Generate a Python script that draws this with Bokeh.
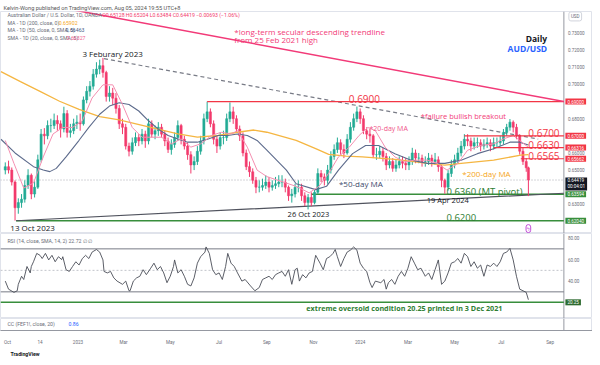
from bokeh.plotting import figure
from bokeh.models import Range1d, FixedTicker, Label, Title, ColumnDataSource
from bokeh.core.properties import value
from bokeh.layouts import column
from bokeh.embed import file_html
from bokeh.resources import INLINE

# ---------------- data ----------------
# x = trading-day index, 0 = 29 Sep 2022; candles sampled every 3 trading days
first_open = 0.650
candle_idx = list(range(0, 481, 3)) + [482]
closes = [
    0.652, 0.650, 0.643, 0.628, 0.631, 0.633, 0.641, 0.647, 0.636, 0.640,
    0.656, 0.671, 0.670, 0.676, 0.676, 0.679, 0.677, 0.674, 0.683, 0.672,
    0.673, 0.677, 0.678, 0.677, 0.691, 0.696, 0.699, 0.706, 0.709, 0.711,
    0.707, 0.693, 0.695, 0.692, 0.686, 0.677, 0.675, 0.664, 0.661, 0.666,
    0.669, 0.667, 0.671, 0.667, 0.677, 0.671, 0.673, 0.675, 0.671, 0.667,
    0.662, 0.665, 0.669, 0.676, 0.668, 0.664, 0.659, 0.653, 0.655, 0.661,
    0.667, 0.680, 0.684, 0.677, 0.668, 0.664, 0.669, 0.669, 0.680, 0.684,
    0.680, 0.674, 0.670, 0.660, 0.652, 0.649, 0.644, 0.640, 0.640, 0.641,
    0.643, 0.640, 0.641, 0.642, 0.643, 0.643, 0.640, 0.635, 0.636, 0.640,
    0.640, 0.635, 0.631, 0.634, 0.631, 0.637, 0.648, 0.646, 0.644, 0.650,
    0.658, 0.662, 0.666, 0.662, 0.660, 0.668, 0.675, 0.680, 0.684, 0.680,
    0.673, 0.671, 0.670, 0.659, 0.659, 0.661, 0.658, 0.653, 0.655, 0.651,
    0.653, 0.655, 0.654, 0.653, 0.655, 0.660, 0.657, 0.657, 0.655, 0.655,
    0.657, 0.655, 0.656, 0.652, 0.644, 0.640, 0.648, 0.653, 0.656, 0.660,
    0.664, 0.668, 0.667, 0.664, 0.666, 0.666, 0.664, 0.665, 0.666, 0.664,
    0.666, 0.666, 0.667, 0.672, 0.675, 0.678, 0.675, 0.670, 0.661, 0.655,
    0.6513, 0.6442]
highs = [
    0.6545, 0.6555, 0.6515, 0.6440, 0.6335, 0.6360, 0.6440, 0.6505, 0.6480, 0.6435,
    0.6590, 0.6740, 0.6745, 0.6790, 0.6800, 0.6830, 0.6820, 0.6790, 0.6870, 0.6850,
    0.6770, 0.6800, 0.6820, 0.6830, 0.6930, 0.6990, 0.7020, 0.7090, 0.7130, 0.7145,
    0.7155, 0.7080, 0.6990, 0.6980, 0.6950, 0.6880, 0.6800, 0.6770, 0.6660, 0.6690,
    0.6720, 0.6710, 0.6740, 0.6730, 0.6800, 0.6790, 0.6760, 0.6780, 0.6770, 0.6730,
    0.6690, 0.6680, 0.6720, 0.6790, 0.6770, 0.6700, 0.6660, 0.6610, 0.6580, 0.6640,
    0.6700, 0.6830, 0.6900, 0.6860, 0.6790, 0.6700, 0.6720, 0.6730, 0.6830, 0.6895,
    0.6870, 0.6820, 0.6760, 0.6720, 0.6620, 0.6550, 0.6510, 0.6460, 0.6440, 0.6450,
    0.6470, 0.6460, 0.6440, 0.6460, 0.6470, 0.6470, 0.6450, 0.6410, 0.6390, 0.6420,
    0.6440, 0.6420, 0.6370, 0.6360, 0.6370, 0.6390, 0.6510, 0.6500, 0.6480, 0.6530,
    0.6610, 0.6650, 0.6690, 0.6680, 0.6650, 0.6710, 0.6780, 0.6830, 0.6871, 0.6860,
    0.6820, 0.6750, 0.6740, 0.6710, 0.6630, 0.6640, 0.6630, 0.6600, 0.6580, 0.6570,
    0.6560, 0.6580, 0.6580, 0.6570, 0.6580, 0.6630, 0.6620, 0.6600, 0.6590, 0.6580,
    0.6600, 0.6590, 0.6600, 0.6580, 0.6530, 0.6450, 0.6500, 0.6560, 0.6590, 0.6630,
    0.6670, 0.6710, 0.6710, 0.6690, 0.6690, 0.6690, 0.6680, 0.6680, 0.6690, 0.6680,
    0.6690, 0.6690, 0.6700, 0.6740, 0.6770, 0.6798, 0.6790, 0.6770, 0.6710, 0.6630,
    0.6570, 0.6520]
lows = [
    0.6475, 0.6480, 0.6410, 0.6205, 0.6245, 0.6280, 0.6310, 0.6390, 0.6330, 0.6340,
    0.6390, 0.6545, 0.6650, 0.6680, 0.6720, 0.6740, 0.6730, 0.6690, 0.6720, 0.6690,
    0.6690, 0.6710, 0.6740, 0.6730, 0.6760, 0.6890, 0.6930, 0.6970, 0.7040, 0.7060,
    0.7040, 0.6900, 0.6900, 0.6880, 0.6830, 0.6740, 0.6710, 0.6620, 0.6580, 0.6590,
    0.6640, 0.6640, 0.6650, 0.6630, 0.6650, 0.6690, 0.6680, 0.6700, 0.6690, 0.6640,
    0.6600, 0.6590, 0.6630, 0.6670, 0.6650, 0.6620, 0.6560, 0.6480, 0.6500, 0.6530,
    0.6590, 0.6650, 0.6780, 0.6750, 0.6650, 0.6600, 0.6620, 0.6650, 0.6670, 0.6780,
    0.6770, 0.6720, 0.6670, 0.6580, 0.6500, 0.6460, 0.6420, 0.6365, 0.6370, 0.6380,
    0.6390, 0.6370, 0.6380, 0.6390, 0.6400, 0.6400, 0.6370, 0.6320, 0.6310, 0.6340,
    0.6370, 0.6320, 0.6290, 0.6270, 0.6290, 0.6300, 0.6360, 0.6430, 0.6410, 0.6420,
    0.6480, 0.6560, 0.6600, 0.6590, 0.6570, 0.6590, 0.6660, 0.6730, 0.6780, 0.6770,
    0.6710, 0.6680, 0.6660, 0.6570, 0.6560, 0.6570, 0.6550, 0.6500, 0.6510, 0.6490,
    0.6490, 0.6510, 0.6510, 0.6500, 0.6500, 0.6530, 0.6540, 0.6540, 0.6520, 0.6520,
    0.6530, 0.6520, 0.6530, 0.6490, 0.6400, 0.6362, 0.6380, 0.6460, 0.6510, 0.6540,
    0.6580, 0.6620, 0.6640, 0.6610, 0.6620, 0.6630, 0.6610, 0.6620, 0.6630, 0.6610,
    0.6620, 0.6630, 0.6640, 0.6650, 0.6700, 0.6730, 0.6720, 0.6680, 0.6590, 0.6530,
    0.6490, 0.6348]

ma200_idx = [-4, 14, 32, 50, 68, 87, 105, 132, 159, 177,
             196, 214, 229, 241, 268, 286, 298, 314, 329, 359,
             389, 405, 420, 450, 475, 482]
ma200_val = [0.7075, 0.7017, 0.6960, 0.6902, 0.6854, 0.6812, 0.6793, 0.6753, 0.6711, 0.6692,
             0.6702, 0.6721, 0.6734, 0.6721, 0.6673, 0.6625, 0.6592, 0.6581, 0.6577, 0.6562,
             0.6539, 0.6529, 0.6539, 0.6558, 0.6587, 0.6590]
ma50_idx = [-4, 9, 26, 35, 41, 47, 56, 68, 77, 87,
            96, 105, 114, 123, 132, 141, 150, 159, 168, 177,
            187, 196, 205, 214, 223, 232, 241, 250, 259, 268,
            286, 296, 307, 320, 332, 344, 359, 374, 389, 405,
            420, 435, 450, 465, 474, 482]
ma50_val = [0.6680, 0.6600, 0.6520, 0.6500, 0.6491, 0.6510, 0.6577, 0.6674, 0.6749, 0.6826,
            0.6874, 0.6893, 0.6883, 0.6845, 0.6788, 0.6739, 0.6702, 0.6682, 0.6663, 0.6663,
            0.6682, 0.6702, 0.6702, 0.6711, 0.6702, 0.6673, 0.6616, 0.6558, 0.6500, 0.6420,
            0.6386, 0.6405, 0.6500, 0.6596, 0.6644, 0.6644, 0.6596, 0.6558, 0.6539, 0.6539,
            0.6558, 0.6596, 0.6625, 0.6663, 0.6663, 0.6646]
ma20_idx = [0, 8, 17, 26, 35, 44, 53, 62, 71, 80,
            90, 99, 108, 117, 126, 135, 144, 153, 162, 171,
            180, 190, 199, 208, 214, 223, 232, 241, 250, 259,
            268, 280, 289, 298, 307, 317, 326, 334, 341, 350,
            359, 368, 377, 389, 398, 407, 417, 426, 438, 450,
            459, 468, 474, 482]
ma20_val = [0.6673, 0.6539, 0.6395, 0.6424, 0.6577, 0.6711, 0.6749, 0.6749, 0.6788, 0.6921,
            0.6998, 0.6998, 0.6883, 0.6749, 0.6692, 0.6692, 0.6692, 0.6653, 0.6682, 0.6634,
            0.6653, 0.6702, 0.6721, 0.6711, 0.6730, 0.6634, 0.6500, 0.6462, 0.6443, 0.6424,
            0.6405, 0.6367, 0.6405, 0.6481, 0.6577, 0.6634, 0.6702, 0.6749, 0.6730, 0.6634,
            0.6577, 0.6548, 0.6558, 0.6558, 0.6539, 0.6500, 0.6539, 0.6616, 0.6644, 0.6653,
            0.6682, 0.6702, 0.6673, 0.6633]

rsi_idx = [0, 3, 8, 11, 12, 15, 17, 20, 23, 24,
           26, 29, 32, 34, 37, 40, 43, 46, 49, 52,
           53, 56, 59, 62, 65, 68, 71, 74, 77, 80,
           84, 87, 90, 91, 94, 97, 100, 103, 108, 111,
           114, 115, 118, 121, 124, 127, 130, 134, 137, 140,
           143, 146, 149, 152, 155, 156, 159, 162, 165, 168,
           171, 174, 177, 180, 184, 185, 188, 191, 194, 197,
           200, 203, 205, 208, 211, 214, 218, 221, 226, 230,
           234, 237, 240, 243, 246, 249, 252, 255, 258, 261,
           264, 267, 269, 271, 274, 277, 280, 283, 286, 290,
           293, 296, 299, 302, 304, 306, 309, 312, 315, 318,
           321, 324, 327, 330, 333, 336, 338, 341, 346, 349,
           351, 353, 356, 359, 362, 365, 368, 371, 374, 377,
           380, 383, 387, 390, 393, 396, 399, 402, 405, 408,
           411, 414, 417, 420, 423, 426, 429, 432, 435, 438,
           441, 444, 447, 450, 453, 456, 459, 462, 465, 468,
           471, 474, 477, 480, 482]
rsi_val = [40, 32.5, 29.5, 31, 37, 44.5, 41.5, 53.6, 47.6, 53.6,
           58, 65.8, 64, 61, 65.8, 59.7, 64, 58, 62.7, 60,
           62.7, 50.6, 49, 53.6, 58, 55, 61, 64, 61, 67,
           69.4, 67, 59.7, 49, 47.6, 49, 43, 40, 37, 40,
           31, 31, 40, 43, 44.5, 50.6, 46, 52, 56.7, 50.6,
           53.6, 47.6, 38.5, 44.5, 53.6, 59.7, 47.6, 50.6, 44.5, 37,
           35.5, 43, 56.7, 62.7, 67, 71.8, 65.8, 50.6, 46, 47.6,
           41.5, 53.6, 65.8, 56.7, 53.6, 47.6, 40, 41.5, 35.5, 31,
           34, 41.5, 43, 44.5, 41.5, 46, 47.6, 49, 44.5, 50.6,
           37, 50.6, 52, 40, 46, 43, 47.6, 49, 64, 56.7,
           50.6, 61, 62.7, 65.8, 69.4, 62.7, 53.6, 61, 67, 68.8,
           71.8, 68.8, 56.7, 52, 49, 38.5, 34, 40, 38.5, 41.5,
           32.5, 38.5, 41.5, 37, 44.5, 49, 44.5, 52, 62.7, 56.7,
           50.6, 52, 44.5, 47.6, 41.5, 50.6, 59.7, 37, 40, 47.6,
           56.7, 58, 61, 56.7, 65.8, 62.7, 53.6, 58, 52, 55,
           44.5, 55, 53.6, 56.7, 53.6, 58, 65.8, 67, 70.4, 59.7,
           44.5, 32.5, 31, 29.5, 22.7]

tick_idx = [2, 32, 67, 109, 152, 197, 241, 284, 327, 371, 414, 457, 502]
tick_labels = ["Oct", "14", "2023", "Mar", "May", "Jul", "Sep", "Nov", "2024", "Mar", "May", "Jul", "Sep"]
price_ticks = [0.63, 0.65, 0.66, 0.68, 0.70, 0.71, 0.72, 0.73]
price_tick_labels = ["0.63000", "0.65000", "0.66000", "0.68000", "0.70000", "0.71000", "0.72000", "0.73000"]
rsi_ticks = [40, 60, 80]
rsi_tick_labels = ["40.00", "60.00", "80.00"]

res_levels = [0.6900, 0.6700, 0.66316, 0.65662]
res_labels = ["0.69000", "0.67000", "0.66316", "0.65662"]
res_start = [186, 423, 450, 475]
sup_levels = [0.63594, 0.62040]
sup_labels = ["0.63594", "0.62040"]
sup_start = [282, 10]
last_price = 0.64419
asc_tl_idx = [10, 280]
asc_tl_val = [0.6204, 0.6290]
desc_tl_idx = [91, 491]
desc_tl_val = [0.7151, 0.6681]
secular_tl_idx = [86.5, 514.7]
secular_tl_val = [0.7407, 0.6900]
rsi_levels = [70, 30]
rsi_extreme = 20.25

# ---------------- geometry ----------------
X0, X1 = -4.4, 514.7          # plotting area (left of the price scale)
XR = X0 + (X1 - X0) * 600.0 / 571.0   # includes the price-scale strip
P0, P1 = 0.61296, 0.74262
R0, R1 = 5.2, 84.3

def mx(px): return X0 + px / 571.0 * (X1 - X0)
def my(py): return P1 - (py - 12.0) / 226.0 * (P1 - P0)
def ry(py): return R1 - (py - 238.0) / 87.0 * (R1 - R0)
def cy(py): return 1.0 - (py - 325.0) / 15.0

UP, DN = "#22ab94", "#f23a6c"
RED, GREEN, PINK = "#f23645", "#2e7d32", "#f23a78"
GRAYTXT = "#6a6d78"
FRAME = "#e0e3eb"
AXLINE = "#9598a1"

def lab(fig, x, y, text, size, color, align="left", style="normal", font="Open Sans", **kw):
    fig.add_layout(Label(x=x, y=y, text=text, text_font_size=size, text_color=color,
                         text_align=align, text_baseline="middle", text_font_style=style,
                         text_font=font, **kw))

def box(fig, y, text, bg):
    fig.add_layout(Label(x=X1, y=y, x_offset=1.5, text=text, text_font_size="4.6px",
                         text_color="white", text_align="left", text_baseline="middle",
                         background_fill_color=bg, text_font="Roboto", padding=(2, 1)))

def base_fig(height, yr, top=0, bottom=0, xaxis=None):
    f = figure(width=592, height=height, x_range=main_xr, y_range=yr, output_backend="svg",
               toolbar_location=None, y_axis_location=None, x_axis_location=xaxis,
               min_border_left=0, min_border_right=0, min_border_top=top, min_border_bottom=bottom)
    f.grid.visible = False
    f.outline_line_color = FRAME
    f.background_fill_color = "white"
    f.border_fill_color = "white"
    # price-scale separator
    f.segment(x0=[X1], y0=[yr.start], x1=[X1], y1=[yr.end], line_color=AXLINE, line_width=1)
    return f

def scale_text(fig, ticks, labels):
    fig.text(x=[X1] * len(ticks), y=ticks, text=labels, x_offset=4, text_baseline="middle",
             text_font=value("Roboto"), text_font_size=value("4.6px"), text_color=GRAYTXT)

main_xr = Range1d(X0, XR)

# ---------------- main price pane ----------------
main = base_fig(233, Range1d(P0, P1), top=11)
main.title.text = "Kelvin-Wong published on TradingView.com, Aug 05, 2024 19:55 UTC+8"
main.title.align = "left"
main.title.offset = 3
main.title.standoff = 2
main.title.text_font_size = "5.6px"
main.title.text_font_style = "normal"
main.title.text_font = "Roboto"
main.title.text_color = "#555555"
scale_text(main, price_ticks, price_tick_labels)

opens = [first_open] + closes[:-1]
cols = [UP if c >= o else DN for o, c in zip(opens, closes)]
src = ColumnDataSource(dict(x=candle_idx, h=highs, l=lows,
                            top=[max(o, c) for o, c in zip(opens, closes)],
                            bot=[min(o, c) for o, c in zip(opens, closes)], col=cols))

# reference lines
main.segment(x0=[X0], y0=[last_price], x1=[X1], y1=[last_price], line_color=AXLINE,
             line_dash="1 2", line_width=0.8)
main.segment(x0=sup_start, y0=sup_levels, x1=[X1] * len(sup_levels), y1=sup_levels,
             line_color="#388e3c", line_width=1.5)
main.line(asc_tl_idx + [X1], asc_tl_val + [asc_tl_val[0] + (X1 - asc_tl_idx[0]) *
          (asc_tl_val[1] - asc_tl_val[0]) / (asc_tl_idx[1] - asc_tl_idx[0])],
          line_color="#50535e", line_width=1.2)
main.line(desc_tl_idx, desc_tl_val, line_color="#787b86", line_width=1.2, line_dash="4 3")

# candles
main.segment(x0="x", y0="l", x1="x", y1="h", line_color="col", line_width=1, source=src)
main.vbar(x="x", width=2.0, top="top", bottom="bot", fill_color="col", line_color="col",
          line_width=0.5, source=src)

# moving averages
main.line(ma200_idx, ma200_val, line_color="#f5b642", line_width=1.3)
main.line(ma50_idx, ma50_val, line_color="#5d6b8c", line_width=1.1)
main.line(ma20_idx, ma20_val, line_color="#f48fb1", line_width=1.0)

# resistance lines
main.segment(x0=res_start, y0=res_levels, x1=[X1] * len(res_levels), y1=res_levels,
             line_color=RED, line_width=1.2)
# long-term secular trendline
sl = (secular_tl_val[1] - secular_tl_val[0]) / (secular_tl_idx[1] - secular_tl_idx[0])
main.line([60, X1], [secular_tl_val[0] + (60 - secular_tl_idx[0]) * sl, secular_tl_val[1]],
          line_color=PINK, line_width=1.5)

# legend text
lab(main, mx(7), my(15.7), "Australian Dollar / U.S. Dollar, 1D, OANDA", "5.2px", GRAYTXT, font="Roboto")
lab(main, mx(103), my(15.7), "O0.65128  H0.65204  L0.63484  C0.64419  \u22120.00693 (\u22121.06%)", "5.2px", DN, font="Roboto")
lab(main, mx(7), my(23.7), "MA - 1D (200, close, 0)", "5.2px", GRAYTXT, font="Roboto")
lab(main, mx(59), my(23.7), "0.65902", "5.2px", "#f5a623", font="Roboto")
lab(main, mx(7), my(31), "MA - 1D (50, close, 0, SMA, 5)", "5.2px", GRAYTXT, font="Roboto")
lab(main, mx(66), my(31), "0.66463", "5.2px", "#4c5d87", font="Roboto")
lab(main, mx(7), my(38.7), "SMA - 1D (20, close, 0, SMA, 5)", "5.2px", GRAYTXT, font="Roboto")
lab(main, mx(67), my(38.7), "0.66327", "5.2px", "#f06292", font="Roboto")

# annotations
lab(main, mx(237), my(32.7), "*long-term secular descending trendline", "8px", PINK)
lab(main, mx(237), my(40.7), "from 25 Feb 2021 high", "8px", PINK)
lab(main, mx(554), my(39), "Daily", "8.5px", "#131722", align="right", style="bold")
lab(main, mx(554), my(49.3), "AUD/USD", "8.5px", "#2962ff", align="right", style="bold")
lab(main, mx(83), my(55), "3 Feburary 2023", "8px", "#131722")
lab(main, mx(353), my(101), "0.6900", "10px", RED)
lab(main, mx(426), my(118.7), "*failure bullish breakout", "7.5px", PINK)
lab(main, mx(374), my(130.7), "*20-day MA", "7px", "#f0568a")
lab(main, mx(535), my(136), "0.6700", "10px", RED)
lab(main, mx(535), my(148), "0.6630", "10px", RED)
lab(main, mx(535), my(159.5), "0.6565", "10px", RED)
lab(main, mx(468), my(177), "*200-day MA", "8px", "#f5a623")
lab(main, mx(343), my(187), "*50-day MA", "8px", "#3d4a6b")
lab(main, mx(452), my(195), "0.6360 (MT pivot)", "9.5px", GREEN)
lab(main, mx(432), my(204), "19 Apr 2024", "7.5px", "#131722")
lab(main, mx(291), my(218), "26 Oct 2023", "7.5px", "#131722")
lab(main, mx(452), my(222), "0.6200", "9.5px", GREEN)
lab(main, mx(10), my(232), "13 Oct 2023", "8px", "#131722")
main.add_layout(Label(x=mx(535), y=my(233), text="\u03df", text_font_size="5px",
                      text_color="#c24fd8", text_align="center", text_baseline="middle",
                      border_line_color="#c24fd8", border_radius=4, padding=1))

# price-scale boxes
for lvl, txt in zip(res_levels, res_labels):
    box(main, lvl, txt, RED)
box(main, my(187.5), "0.64419\n00:04:01", "#131722")
for lvl, txt in zip(sup_levels, sup_labels):
    box(main, lvl, txt, "#388e3c")
main.add_layout(Label(x=X1, y=my(17), x_offset=5, text="USD", text_font_size="4.6px",
                      text_color=GRAYTXT, text_align="left", text_baseline="middle",
                      text_font="Roboto", border_line_color="#d1d4dc", border_radius=2, padding=2))

# ---------------- RSI pane ----------------
rsi = base_fig(85, Range1d(R0, R1))
scale_text(rsi, rsi_ticks, rsi_tick_labels)
rsi.segment(x0=[X0, X0], y0=rsi_levels, x1=[X1, X1], y1=rsi_levels, line_color="#787b86", line_width=1)
rsi.segment(x0=[X0], y0=[50], x1=[X1], y1=[50], line_color="#b2b5be", line_dash="2 2", line_width=0.8)
rsi.segment(x0=[X0], y0=[rsi_extreme], x1=[X1], y1=[rsi_extreme], line_color="#388e3c", line_width=1.5)
rsi.line(rsi_idx, rsi_val, line_color="#4a4d57", line_width=0.9)
lab(rsi, mx(7), ry(245.7), "RSI (14, close, SMA, 14, 2)  22.72  \u2205  \u2205", "5.2px", GRAYTXT, font="Roboto")
lab(rsi, mx(310), ry(314.3), "extreme oversold condition 20.25 printed in 3 Dec 2021", "7.2px", GREEN, style="bold")
box(rsi, rsi_extreme, "20.25", "#2e6b30")

# ---------------- CC pane + time axis ----------------
cc = base_fig(39, Range1d(0, 1), bottom=25, xaxis="below")
cc.xaxis.ticker = FixedTicker(ticks=tick_idx)
cc.xaxis.major_label_overrides = {t: s for t, s in zip(tick_idx, tick_labels)}
cc.xaxis.major_label_text_font_size = "4.6px"
cc.xaxis.major_label_text_color = GRAYTXT
cc.xaxis.major_label_text_font = "Roboto"
cc.xaxis.major_tick_line_color = None
cc.xaxis.minor_tick_line_color = None
cc.xaxis.axis_line_color = AXLINE
cc.xaxis.major_label_standoff = 3
cc.add_layout(Title(text="TradingView", align="left", offset=10, standoff=2,
                    text_font_size="5.2px", text_font_style="bold", text_font="Roboto",
                    text_color="#131722"), "below")
lab(cc, mx(7), cy(331.7), "CC (FEF1!, close, 20)", "5.2px", GRAYTXT, font="Roboto")
lab(cc, mx(69), cy(331.7), "0.86", "5.2px", "#2962ff", font="Roboto")

layout = column(main, rsi, cc, spacing=0)
open("out.html", "w").write(file_html(layout, INLINE))
